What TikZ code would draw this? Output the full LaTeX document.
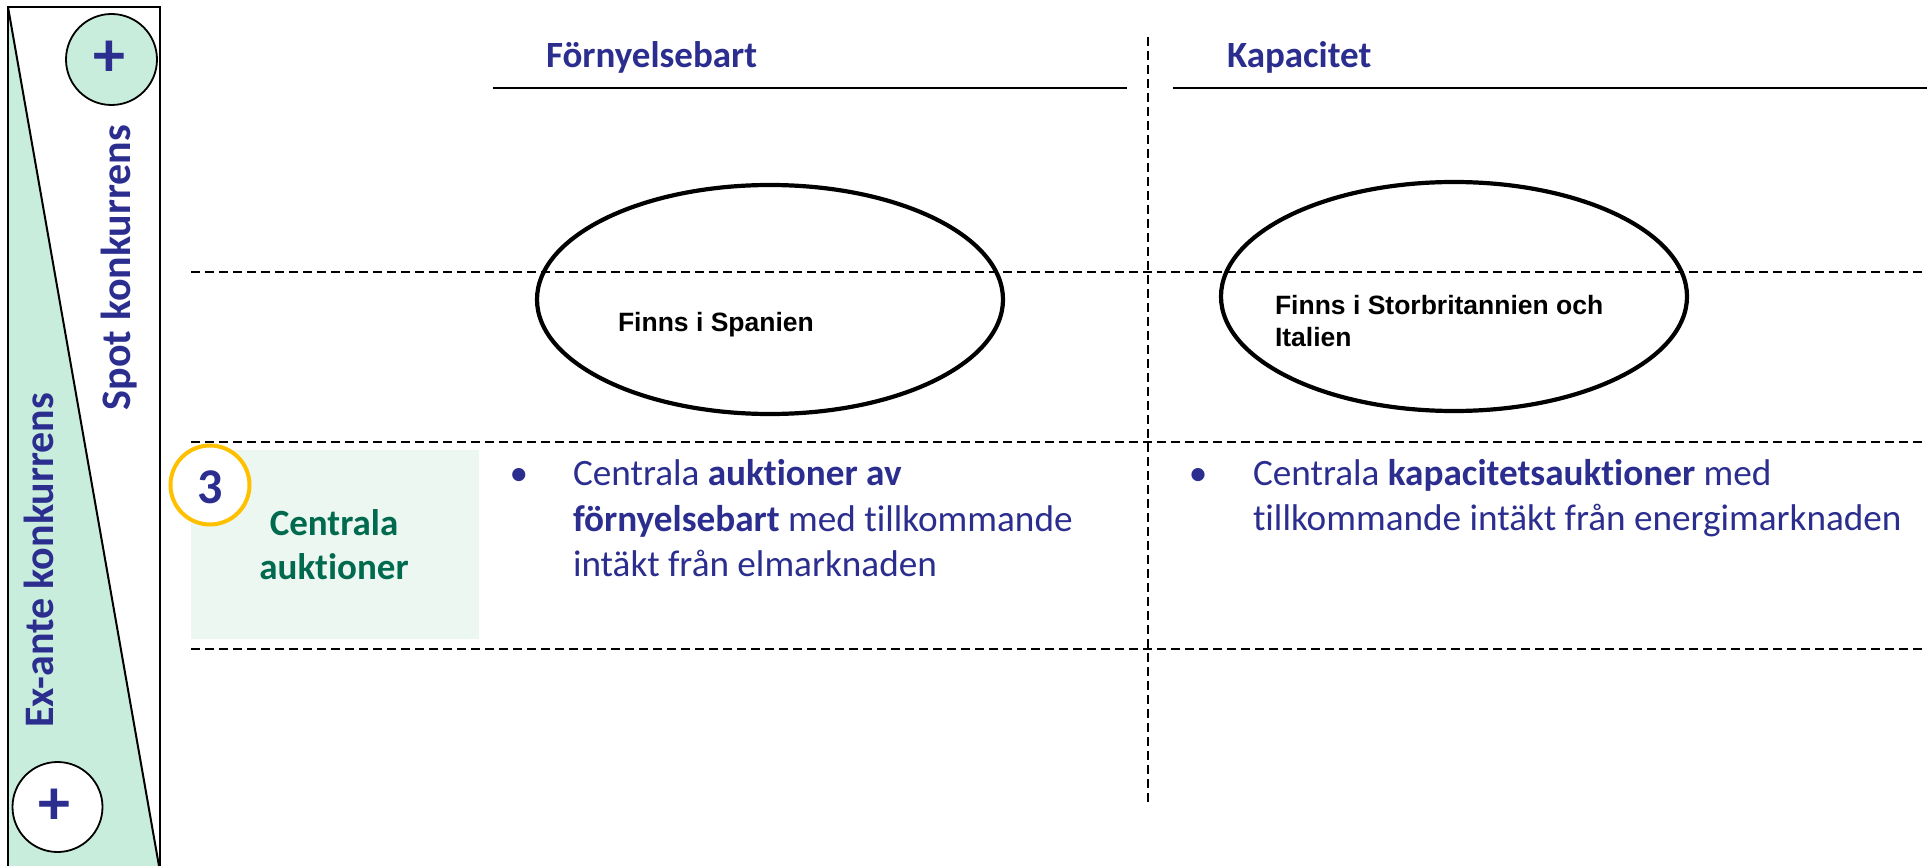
\documentclass[tikz,border=0pt]{standalone}
\usepackage{fontspec}
\setmainfont{Carlito}[Ligatures=NoCommon]
\newfontfamily\arialf{Liberation Sans}
\definecolor{navy}{HTML}{2B2E8E}
\definecolor{mint}{HTML}{C9EDDC}
\definecolor{palegreen}{HTML}{EDF7F1}
\definecolor{darkgreen}{HTML}{006A4E}
\definecolor{gold}{HTML}{FFC000}
\begin{document}
\begin{tikzpicture}[x=1pt,y=-1pt,
  txt/.style={inner sep=0pt,outer sep=0pt},
  hdash/.style={line width=2.2pt,dash pattern=on 8.5pt off 5.5pt},
  vdash/.style={line width=2pt,dash pattern=on 9pt off 5pt},
  bodytext/.style={txt,anchor=base west,text=navy,font=\fontsize{37.2}{45}\selectfont},
  bullet/.style={txt,anchor=base,text=navy,font=\fontsize{37.2}{45}\selectfont},
  header/.style={txt,anchor=base west,text=navy,font=\fontsize{37}{45}\selectfont\bfseries},
  sidetext/.style={txt,anchor=base,rotate=90,text=navy,font=\fontsize{42}{50}\selectfont\bfseries},
  plusmark/.style={txt,text=navy,font=\fontsize{64}{66}\selectfont\bfseries},
  ovaltext/.style={txt,anchor=base west,text=black,font=\arialf\fontsize{26.5}{32}\selectfont\bfseries},
]
\useasboundingbox (0,0) rectangle (1927,866);
\fill[white] (0,0) rectangle (1927,866);

% left panel
\fill[mint] (8,7) -- (159,866) -- (8,866) -- cycle;
\draw[line width=2.5pt] (8,880) -- (8,7) -- (160,7) -- (160,880);
\draw[line width=2pt] (8,7) -- (159,866);
\node[draw=black,line width=1.8pt,fill=mint,circle,minimum size=91pt,inner sep=0pt] (ptop) at (111.5,59.5) {};
\node[plusmark] (plustop) at (109,59) {+};
\node[draw=black,line width=1.8pt,fill=white,circle,minimum size=90pt,inner sep=0pt] (pbot) at (57.5,807) {};
\node[plusmark] (plusbot) at (54,807) {+};
\node[sidetext] (spot) at (130,267.5) {Spot konkurrens};
\node[sidetext] (exante) at (53,560.5) {Ex-ante konkurrens};

% grid lines
\coordinate (h1a) at (191,272); \coordinate (h1b) at (1923,272);
\coordinate (h2a) at (191,442); \coordinate (h2b) at (1923,442);
\coordinate (h3a) at (191,649); \coordinate (h3b) at (1923,649);
\coordinate (v1a) at (1148,37); \coordinate (v1b) at (1148,802);
\draw[hdash] (h1a) -- (h1b);
\draw[hdash] (h2a) -- (h2b);
\draw[hdash] (h3a) -- (h3b);
\draw[vdash] (v1a) -- (v1b);

% headers
\coordinate (u1a) at (493,88); \coordinate (u1b) at (1127,88);
\coordinate (u2a) at (1173,88); \coordinate (u2b) at (1927,88);
\draw[line width=2.6pt] (u1a) -- (u1b);
\draw[line width=2.6pt] (u2a) -- (u2b);
\node[header] (hforn) at (546,68) {Förnyelsebart};
\node[header] (hkap) at (1227,68) {Kapacitet};

% ellipses
\draw[line width=4.2pt] (770,299.5) ellipse [x radius=233, y radius=114.5];
\draw[line width=4.2pt] (1454,296.5) ellipse [x radius=233, y radius=114.5];
\node[ovaltext] (spanien) at (618,332) {Finns i Spanien};
\node[ovaltext] (storbr) at (1275,315) {Finns i Storbritannien och};
\node[ovaltext] (italien) at (1275,347) {Italien};

% row label
\fill[palegreen] (191,450) rectangle (479,639);
\node[draw=gold,line width=4pt,fill=white,circle,minimum size=79pt,inner sep=0pt] (ring) at (210,485) {};
\node[txt,anchor=base,text=navy,font=\fontsize{50}{56}\selectfont\bfseries] (three) at (210,503) {3};
\node[txt,anchor=base,text=darkgreen,font=\fontsize{37}{44}\selectfont\bfseries] (centr) at (334,535) {Centrala};
\node[txt,anchor=base,text=darkgreen,font=\fontsize{37}{44}\selectfont\bfseries] (aukt) at (334,579) {auktioner};

% bullets left
\node[bullet] (b1) at (519,485) {•};
\node[bodytext] (l1) at (573,485) {Centrala \textbf{auktioner av}};
\node[bodytext] (l2) at (573,531) {\textbf{förnyelsebart} med tillkommande};
\node[bodytext] (l3) at (573,576) {intäkt från elmarknaden};

% bullets right
\node[bullet] (b2) at (1198,485) {•};
\node[bodytext] (r1) at (1253,485) {Centrala \textbf{kapacitetsauktioner} med};
\node[bodytext] (r2) at (1253,530) {tillkommande intäkt från energimarknaden};
\end{tikzpicture}
\end{document}
